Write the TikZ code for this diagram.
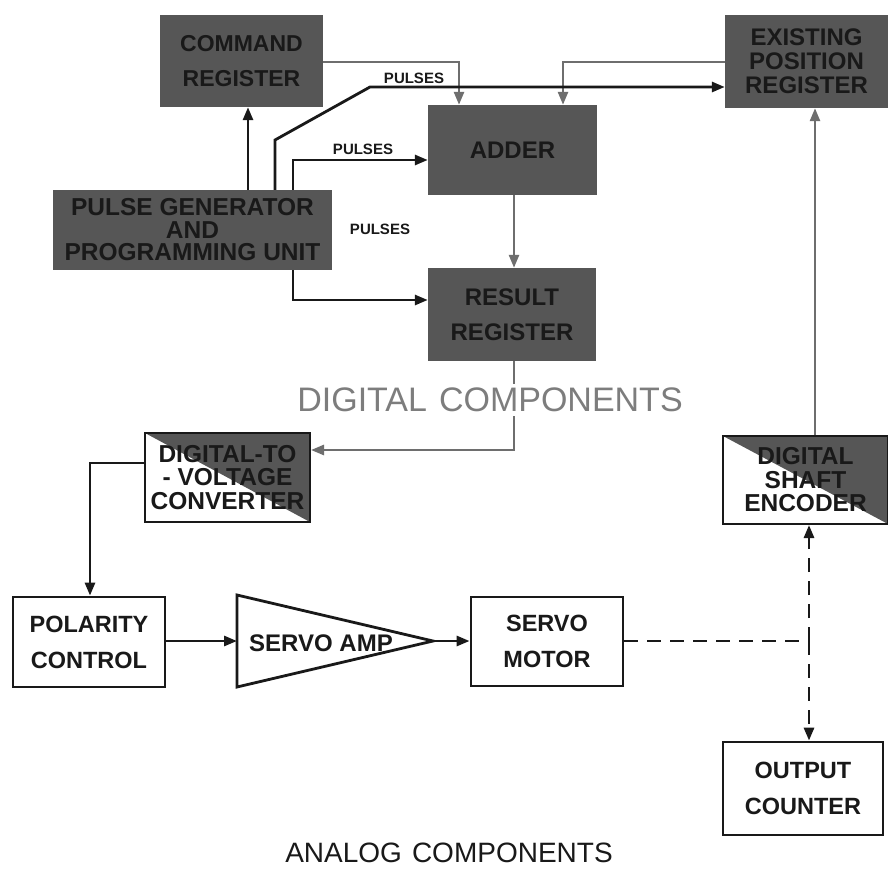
\documentclass[tikz,border=0pt]{standalone}
\usepackage{fontspec}
\setmainfont{Liberation Sans}
\usetikzlibrary{arrows.meta,calc}
\definecolor{boxgray}{RGB}{86,86,86}
\definecolor{linegray}{RGB}{110,110,110}
\definecolor{ink}{RGB}{25,25,25}
\definecolor{titlegray}{RGB}{125,125,125}
\tikzset{
  dbox/.style={fill=boxgray, draw=none, inner sep=0pt, align=center, text=ink},
  wbox/.style={draw=ink, line width=2.8pt, fill=white, inner sep=0pt, align=center, text=ink},
  halfbox/.style={wbox, line width=2pt, path picture={\fill[boxgray] (path picture bounding box.north west) -- (path picture bounding box.north east) -- (path picture bounding box.south east) -- cycle;}},
  conn/.style={line width=2.8pt, draw=ink, -{Triangle[length=13pt,width=10pt]}},
  gconn/.style={line width=2.6pt, draw=linegray, -{Triangle[length=13pt,width=10pt]}},
  dconn/.style={line width=2.8pt, draw=ink, dash pattern=on 14pt off 9pt},
  lbl/.style={font=\fontsize{15}{15}\selectfont\bfseries, text=ink, inner sep=0pt},
}
\begin{document}
\begin{tikzpicture}[x=1pt,y=-1pt]
\fill[white] (0,0) rectangle (888,875);
\useasboundingbox (0,0) rectangle (888,875);

% digital boxes
\node[dbox, minimum width=163pt, minimum height=92pt, font=\fontsize{23}{35}\selectfont\bfseries] (CR) at (241.5,61) {COMMAND\\REGISTER};
\node[dbox, minimum width=279pt, minimum height=80pt, font=\fontsize{24.5}{22.5}\selectfont\bfseries] (PG) at (192.5,230) {PULSE GENERATOR\\AND\\PROGRAMMING UNIT};
\node[dbox, minimum width=169pt, minimum height=90pt, font=\fontsize{24}{35}\selectfont\bfseries] (ADDER) at (512.5,150) {ADDER};
\node[dbox, minimum width=168pt, minimum height=93pt, font=\fontsize{24}{35}\selectfont\bfseries] (RR) at (512,314.5) {RESULT\\REGISTER};
\node[dbox, minimum width=163pt, minimum height=93pt, font=\fontsize{24}{24}\selectfont\bfseries] (EPR) at (806.5,61.5) {EXISTING\\POSITION\\REGISTER};
\node[halfbox, minimum width=165pt, minimum height=89pt, font=\fontsize{24.5}{23.5}\selectfont\bfseries] (DVC) at (227.5,477.5) {DIGITAL-TO\\- VOLTAGE\\CONVERTER};
\node[halfbox, minimum width=165pt, minimum height=88pt, font=\fontsize{24.5}{23.5}\selectfont\bfseries] (DSE) at (805.5,480) {DIGITAL\\SHAFT\\ENCODER};

% analog boxes
\node[wbox, minimum width=152pt, minimum height=90pt, font=\fontsize{23.5}{36}\selectfont\bfseries] (PC) at (89,642) {POLARITY\\CONTROL};
\node[wbox, minimum width=152pt, minimum height=89pt, font=\fontsize{23.5}{36}\selectfont\bfseries] (SM) at (547,641.5) {SERVO\\MOTOR};
\node[wbox, minimum width=160pt, minimum height=93pt, font=\fontsize{23.5}{36}\selectfont\bfseries] (OC) at (803,788.5) {OUTPUT\\COUNTER};

% servo amplifier triangle
\coordinate (SAtop) at (237,595);
\coordinate (SAbot) at (237,687);
\coordinate (SAout) at (433,641);
\coordinate (SAin) at (237,641);
\draw[line width=2.8pt, draw=ink, line join=miter] (SAtop) -- (SAout) -- (SAbot) -- cycle;
\node[font=\fontsize{24}{24}\selectfont\bfseries, text=ink, inner sep=0pt] (SAtext) at (321,643) {SERVO AMP};

% helper coordinates
\coordinate (xa) at (248,0);
\coordinate (xb) at (275,0);
\coordinate (xc) at (293,0);
\coordinate (xd) at (459,0);
\coordinate (xe) at (563,0);
\coordinate (xf) at (514,0);
\coordinate (xg) at (815,0);
\coordinate (xh) at (809,0);
\coordinate (xi) at (90,0);
\coordinate (ya) at (0,62);
\coordinate (yb) at (0,87);
\coordinate (yc) at (0,160);
\coordinate (yd) at (0,300);
\coordinate (ye) at (0,450);
\coordinate (yf) at (0,463);
\coordinate (yg) at (0,641);
\coordinate (bend1) at (275,140);
\coordinate (bend2) at (370,87);
\coordinate (jn) at (809,641);

% connectors
\draw[gconn] (CR.east |- ya) -| (ADDER.north -| xd);
\draw[gconn] (EPR.west |- ya) -| (ADDER.north -| xe);
\draw[conn] (PG.north -| xa) -- (CR.south -| xa);
\draw[conn] (PG.north -| xb) -- (bend1) -- (bend2) -- (EPR.west |- yb);
\draw[conn] (PG.north -| xc) |- (ADDER.west |- yc);
\draw[conn] (PG.south -| xc) |- (RR.west |- yd);
\draw[gconn] (ADDER.south -| xf) -- (RR.north -| xf);
\draw[gconn] (RR.south -| xf) |- (DVC.east |- ye);
\draw[gconn] (DSE.north -| xg) -- (EPR.south -| xg);
\draw[conn] (DVC.west |- yf) -| (PC.north -| xi);
\draw[conn] (PC.east |- yg) -- (SAin);
\draw[conn] (SAout) -- (SM.west |- yg);
\draw[dconn] (SM.east |- yg) -- (jn);
\draw[dconn, -{Triangle[length=13pt,width=10pt]}] (jn) -- (DSE.south -| xh);
\draw[dconn, -{Triangle[length=13pt,width=10pt]}] (jn) -- (OC.north -| xh);

% labels
\node[lbl] (p1) at (414,78) {PULSES};
\node[lbl] (p2) at (363,149) {PULSES};
\node[lbl] (p3) at (380,229) {PULSES};

% titles
\node[font=\fontsize{34}{34}\selectfont, text=titlegray, fill=white, inner sep=4pt] (DIG) at (490,400) {DIGITAL\hspace{12pt}COMPONENTS};
\node[font=\fontsize{28}{28}\selectfont, text=ink, inner sep=2pt] (ANA) at (449,853) {ANALOG\hspace{10pt}COMPONENTS};
\end{tikzpicture}
\end{document}
